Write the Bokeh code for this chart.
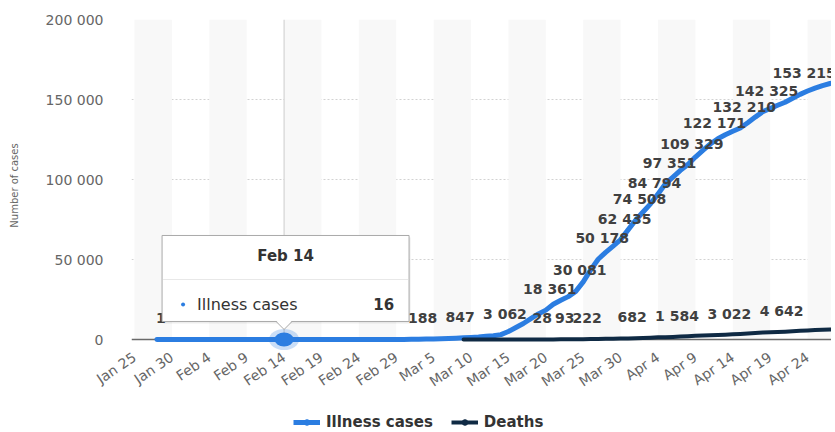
import pandas as pd
from bokeh.plotting import figure
from bokeh.layouts import column
from bokeh.models import Range1d, FixedTicker, Legend, LegendItem, BoxAnnotation, Span
from bokeh.core.properties import value
from bokeh.embed import file_html
from bokeh.resources import INLINE

NAN = float("nan")

# ---------------- data ----------------
DATES = pd.date_range("2020-01-25", "2020-04-28")  # daily categories

CASES = [NAN, NAN, NAN, 1, 4, 5, 7, 8, 10, 12,
         12, 12, 12, 13, 13, 14, 14, 16, 16, 16,
         16, 16, 16, 16, 16, 16, 16, 16, 16, 16,
         16, 16, 18, 21, 26, 53, 66, 117, 188, 240,
         349, 534, 684, 847, 1112, 1296, 1567, 1966, 2369, 3062,
         5000, 7500, 10000, 13000, 16000, 18361, 22000, 24500, 26800, 30081,
         36000, 43500, 50178, 54500, 58400, 62435, 68500, 74508, 79700, 84794,
         91000, 97351, 101500, 105700, 109329, 114000, 118200, 122171, 125500, 128000,
         130200, 132210, 135500, 139000, 142325, 144400, 146400, 148300, 150800, 153215,
         155300, 157100, 158700, 160000, 161000]

DEATHS = [NAN] * 44 + [2, 2, 3, 5, 6, 8,
          10, 12, 15, 20, 28, 44, 68, 93, 123, 160,
          222, 280, 350, 430, 510, 590, 682, 830, 990, 1160,
          1330, 1450, 1584, 1810, 2050, 2300, 2520, 2700, 2860, 3022,
          3250, 3500, 3780, 4050, 4300, 4470, 4642, 4900, 5150, 5400,
          5650, 5900, 6100, 6300, 6450]

# indices of the points whose data labels are displayed
CASE_LABEL_IDX = [3, 38, 43, 49, 55, 59, 62, 65, 67, 69, 71, 74, 77, 81, 84, 89]
DEATH_LABEL_IDX = [54, 57, 60, 66, 72, 79, 86]

TICK_LABELS = ["Jan 25", "Jan 30", "Feb 4", "Feb 9", "Feb 14", "Feb 19", "Feb 24",
               "Feb 29", "Mar 5", "Mar 10", "Mar 15", "Mar 20", "Mar 25", "Mar 30",
               "Apr 4", "Apr 9", "Apr 14", "Apr 19", "Apr 24"]
Y_TICKS = [0, 50000, 100000, 150000, 200000]

SERIES_NAMES = ["Illness cases", "Deaths"]
TIP = 20  # hovered category (Feb 14)

# ---------------- style ----------------
BLUE = "#2b7de1"
NAVY = "#0f2a44"
FONT = "DejaVu Sans"
GREY = "#666666"
DARK = "#333333"

W, H = 831, 410
LEFT, TOP = 131, 19
FW, FH = W - LEFT, 332
BOTTOM = H - TOP - FH
LEG_H = 21
X0, X1 = -0.4, 93.2
Y0, Y1 = -7500, 200000
PXX = (X1 - X0) / FW
PXY = (Y1 - Y0) / FH


def fmt(v):
    return f"{int(v):,}".replace(",", " ")


N = len(DATES)
XS = list(range(N))

p = figure(width=W, height=H, x_range=Range1d(X0, X1), y_range=Range1d(Y0, Y1),
           output_backend="svg", toolbar_location=None,
           min_border_left=LEFT, min_border_right=0, min_border_top=TOP,
           min_border_bottom=BOTTOM)
p.outline_line_color = None
p.background_fill_color = "white"
p.border_fill_color = "white"

# alternate bands between ticks
for start in range(0, N, 10):
    p.add_layout(BoxAnnotation(left=start, right=start + 5, bottom=0, top=Y1,
                               fill_color="#f8f8f8", fill_alpha=1, line_color=None,
                               level="underlay"))

p.xgrid.grid_line_color = None
p.ygrid.ticker = FixedTicker(ticks=Y_TICKS[1:])
p.ygrid.grid_line_color = "#d2d2d2"
p.ygrid.grid_line_dash = "2 2"
p.ygrid.grid_line_width = 1

p.add_layout(Span(location=0, dimension="width", line_color="#6a6a6a", line_width=1.5,
                  level="underlay"))

# y axis
p.yaxis.ticker = FixedTicker(ticks=Y_TICKS)
p.yaxis.major_label_overrides = {t: fmt(t) for t in Y_TICKS}
p.yaxis.axis_line_color = None
p.yaxis.major_tick_line_color = None
p.yaxis.minor_tick_line_color = None
p.yaxis.major_label_standoff = 22
p.yaxis.major_label_text_font = FONT
p.yaxis.major_label_text_font_size = "14px"
p.yaxis.major_label_text_color = GREY
p.yaxis.axis_label = "Number of cases"
p.yaxis.axis_label_text_font = FONT
p.yaxis.axis_label_text_font_size = "10px"
p.yaxis.axis_label_text_font_style = "normal"
p.yaxis.axis_label_text_color = GREY
p.yaxis.axis_label_standoff = 23

# x axis
TICK_POS = list(range(0, N, 5))[:len(TICK_LABELS)]
p.xaxis.ticker = FixedTicker(ticks=TICK_POS)
p.xaxis.major_label_overrides = {pos: lab for pos, lab in zip(TICK_POS, TICK_LABELS)}
p.xaxis.axis_line_color = None
p.xaxis.major_tick_line_color = None
p.xaxis.minor_tick_line_color = None
p.xaxis.major_tick_out = 0
p.xaxis.major_label_standoff = 4
p.xaxis.major_label_orientation = 0.6
p.xaxis.major_label_text_font = FONT
p.xaxis.major_label_text_font_size = "14px"
p.xaxis.major_label_text_color = GREY

# crosshair of the hovered category
p.segment(x0=[TIP], y0=[0], x1=[TIP], y1=[Y1], line_color="#cccccc", line_width=1)

# series
r_cases = p.line(x=XS, y=CASES, line_color=BLUE, line_width=5, line_join="round", line_cap="round")
r_deaths = p.line(x=XS, y=DEATHS, line_color=NAVY, line_width=4, line_join="round", line_cap="round")

# data labels
for idx, series in ((CASE_LABEL_IDX, CASES), (DEATH_LABEL_IDX, DEATHS)):
    p.text(x=idx, y=[series[i] for i in idx], text=[fmt(series[i]) for i in idx],
           x_offset=4, y_offset=-21, text_align="center", text_baseline="middle",
           text_font=value(FONT), text_font_size="14px", text_font_style="bold",
           text_color="#404040")

# hovered marker
p.ellipse(x=[TIP], y=[CASES[TIP]], width=30, height=21, width_units="screen",
          height_units="screen", fill_color=BLUE, fill_alpha=0.25, line_color=None)
p.ellipse(x=[TIP], y=[CASES[TIP]], width=19, height=14, width_units="screen",
          height_units="screen", fill_color=BLUE, line_color=None)


def pt(dx, dy):
    """pixel offset (right, up) from the hovered point -> data coords"""
    return TIP + dx * PXX, CASES[TIP] + dy * PXY


# tooltip
cx, cy = pt(1.5, 61)
sx, sy = pt(3, 59)
p.rect(x=[sx], y=[sy], width=247, height=86, width_units="screen", height_units="screen",
       fill_color="black", fill_alpha=0.07, line_color=None)
p.rect(x=[cx], y=[cy], width=247, height=86, width_units="screen", height_units="screen",
       fill_color="white", fill_alpha=1, line_color="#a9a9a9", line_width=1)
tri = [pt(-8, 19), pt(0, 10), pt(8, 19)]
p.patch(x=[a for a, b in tri], y=[b for a, b in tri], fill_color="white", line_color=None)
edge = [pt(-8, 18), pt(0, 10), pt(8, 18)]
p.line(x=[a for a, b in edge], y=[b for a, b in edge], line_color="#a9a9a9", line_width=1)
s0, s1 = pt(-121, 60), pt(124, 60)
p.segment(x0=[s0[0]], y0=[s0[1]], x1=[s1[0]], y1=[s1[1]], line_color="#e8e8e8", line_width=1)
TIP_LABEL = f"{DATES[TIP]:%b} {DATES[TIP].day}"
p.text(x=[TIP], y=[CASES[TIP]], text=[TIP_LABEL], x_offset=1.5, y_offset=-83,
       text_align="center", text_baseline="middle", text_font=value(FONT),
       text_font_size="15px", text_font_style="bold", text_color=DARK)
dx_, dy_ = pt(-101, 35)
p.scatter(x=[dx_], y=[dy_], size=4, fill_color=BLUE, line_color=None)
p.text(x=[TIP], y=[CASES[TIP]], text=[SERIES_NAMES[0]], x_offset=-87, y_offset=-35,
       text_align="left", text_baseline="middle", text_font=value(FONT),
       text_font_size="16px", text_color=DARK)
p.text(x=[TIP], y=[CASES[TIP]], text=[fmt(CASES[TIP])], x_offset=110, y_offset=-35,
       text_align="right", text_baseline="middle", text_font=value(FONT),
       text_font_size="15px", text_font_style="bold", text_color=DARK)

# legend row (own strip under the chart; its frame is aligned with the chart frame)
lg = figure(width=W, height=LEG_H, x_range=Range1d(0, 1), y_range=Range1d(0, 1),
            output_backend="svg", toolbar_location=None, min_border=0,
            x_axis_location=None, y_axis_location=None)
lg.outline_line_color = None
lg.xgrid.grid_line_color = None
lg.ygrid.grid_line_color = None
items = []
for name, color, lw in ((SERIES_NAMES[0], BLUE, 5), (SERIES_NAMES[1], NAVY, 4)):
    rl = lg.line(x=[NAN], y=[NAN], line_color=color, line_width=lw)
    rm = lg.scatter(x=[NAN], y=[NAN], size=11, fill_color=color, line_color=color)
    items.append(LegendItem(label=name, renderers=[rl, rm]))
legend = Legend(items=items, location=(162, 0), orientation="horizontal",
                glyph_width=27, glyph_height=14, label_standoff=6, spacing=18,
                padding=0, margin=0, background_fill_alpha=0, border_line_color=None,
                label_text_font=FONT, label_text_font_size="15px",
                label_text_font_style="bold", label_text_color=DARK)
lg.add_layout(legend)

page = column(p, lg, spacing=0)
open("out.html", "w").write(file_html(page, INLINE))
